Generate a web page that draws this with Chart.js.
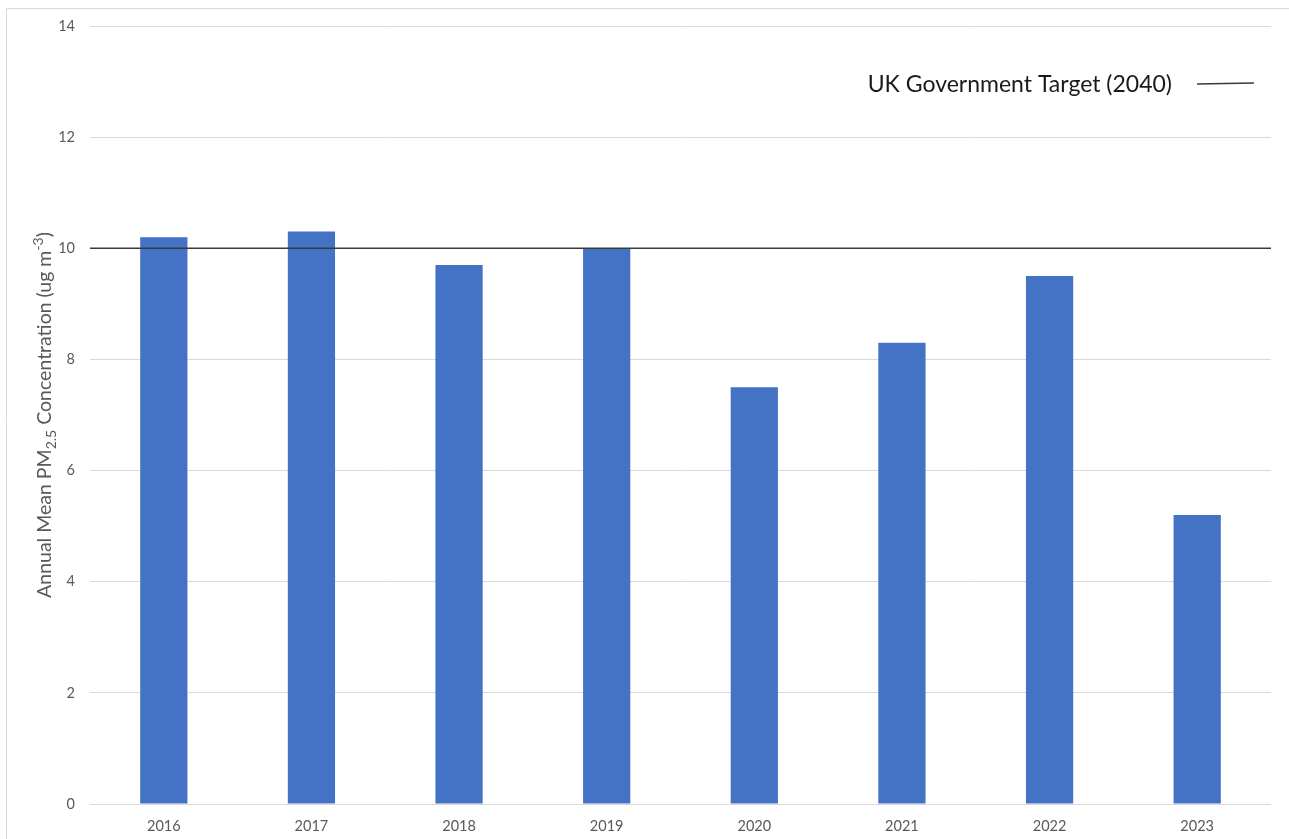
<!DOCTYPE html>
<html lang="en">
<head>
<meta charset="utf-8">
<title>Annual Mean PM2.5</title>
<script src="https://cdn.jsdelivr.net/npm/chart.js@4.4.1/dist/chart.umd.min.js"></script>
<style>
  html, body { margin: 0; padding: 0; background: #fff; }
  #wrap { width: 1289px; height: 839px; position: relative; }
</style>
</head>
<body>
<div id="wrap"><canvas id="myChart"></canvas></div>
<script>
// yearly values
const years = ['2016', '2017', '2018', '2019', '2020', '2021', '2022', '2023'];
const pm25 = [10.2, 10.3, 9.7, 10.0, 7.5, 8.3, 9.5, 5.2];
const target = [10, 10, 10, 10, 10, 10, 10, 10];
const targetLabel = 'UK Government Target (2040)';
const yTicks = [0, 2, 4, 6, 8, 10, 12, 14];

const FONT = 'Lato, "Liberation Sans", sans-serif';

// outer frame line
const framePlugin = {
  id: 'frame',
  beforeDraw(chart) {
    const ctx = chart.ctx;
    ctx.save();
    ctx.strokeStyle = '#d9d9d9';
    ctx.lineWidth = 1;
    ctx.beginPath();
    ctx.moveTo(6.5, chart.height);
    ctx.lineTo(6.5, 8.5);
    ctx.lineTo(chart.width, 8.5);
    ctx.stroke();
    ctx.restore();
  }
};

// y title with sub/superscript parts
const yTitlePlugin = {
  id: 'yTitle',
  afterDraw(chart) {
    const ctx = chart.ctx;
    const area = chart.chartArea;
    const parts = [
      { t: 'Annual Mean PM', size: 19.5, dy: 0 },
      { t: '2.5', size: 14, dy: 5 },
      { t: ' Concentration (ug m', size: 19.5, dy: 0 },
      { t: '-3', size: 14, dy: -8 },
      { t: ')', size: 19.5, dy: 0 }
    ];
    ctx.save();
    let total = 0;
    parts.forEach(p => {
      ctx.font = p.size + 'px ' + FONT;
      p.w = ctx.measureText(p.t).width;
      total += p.w;
    });
    ctx.translate(51, (area.top + area.bottom) / 2);
    ctx.rotate(-Math.PI / 2);
    ctx.fillStyle = '#595959';
    ctx.textBaseline = 'alphabetic';
    let x = -total / 2;
    parts.forEach(p => {
      ctx.font = p.size + 'px ' + FONT;
      ctx.fillText(p.t, x, p.dy);
      x += p.w;
    });
    ctx.restore();
  }
};

// legend for the target line, top right inside the plot
const targetLegend = {
  id: 'targetLegend',
  afterDraw(chart) {
    const ctx = chart.ctx;
    const ds = chart.data.datasets[1];
    ctx.save();
    ctx.font = '23px ' + FONT;
    ctx.fillStyle = '#1a1a1a';
    ctx.textBaseline = 'middle';
    ctx.textAlign = 'right';
    const lineX0 = 1197, lineX1 = 1254, yMid = 85;
    ctx.fillText(ds.label, lineX0 - 25, yMid);
    ctx.strokeStyle = ds.borderColor;
    ctx.lineWidth = ds.borderWidth;
    ctx.beginPath();
    ctx.moveTo(lineX0, yMid - 1);
    ctx.lineTo(lineX1, yMid - 2);
    ctx.stroke();
    ctx.restore();
  }
};

const config = {
  type: 'bar',
  data: {
    labels: years,
    datasets: [{
      type: 'bar',
      label: 'Annual Mean PM2.5',
      data: pm25,
      backgroundColor: '#4472C4',
      barPercentage: 0.32,
      categoryPercentage: 1,
      grouped: false,
      order: 1
    },
    {
      type: 'line',
      label: targetLabel,
      data: target,
      xAxisID: 'x2',
      borderColor: '#3a3a3a',
      borderWidth: 1.5,
      pointRadius: 0,
      fill: false,
      order: 0
    }]
  },
  options: {
    responsive: true,
    maintainAspectRatio: false,
    animation: false,
    layout: { padding: { top: 26, right: 18, left: 0, bottom: 0 } },
    plugins: {
      legend: { display: false },
      tooltip: { enabled: false }
    },
    scales: {
      x: {
        type: 'category',
        offset: true,
        grid: { display: false },
        border: { display: false },
        ticks: {
          color: '#595959',
          font: { family: FONT, size: 14.5 },
          padding: 6,
          maxRotation: 0
        },
        afterFit(scale) { scale.height = 35; }
      },
      x2: {
        type: 'category',
        labels: years,
        offset: false,
        display: false
      },
      y: {
        min: 0,
        max: 14,
        afterBuildTicks(scale) { scale.ticks = yTicks.map(v => ({ value: v })); },
        grid: { color: '#d9d9d9', drawTicks: false, lineWidth: 1 },
        border: { display: false },
        ticks: {
          color: '#595959',
          font: { family: FONT, size: 14.5 },
          padding: 15
        },
        afterFit(scale) { scale.width = 90; }
      }
    }
  },
  plugins: [framePlugin, yTitlePlugin, targetLegend]
};

new Chart(document.getElementById('myChart'), config);
</script>
</body>
</html>
